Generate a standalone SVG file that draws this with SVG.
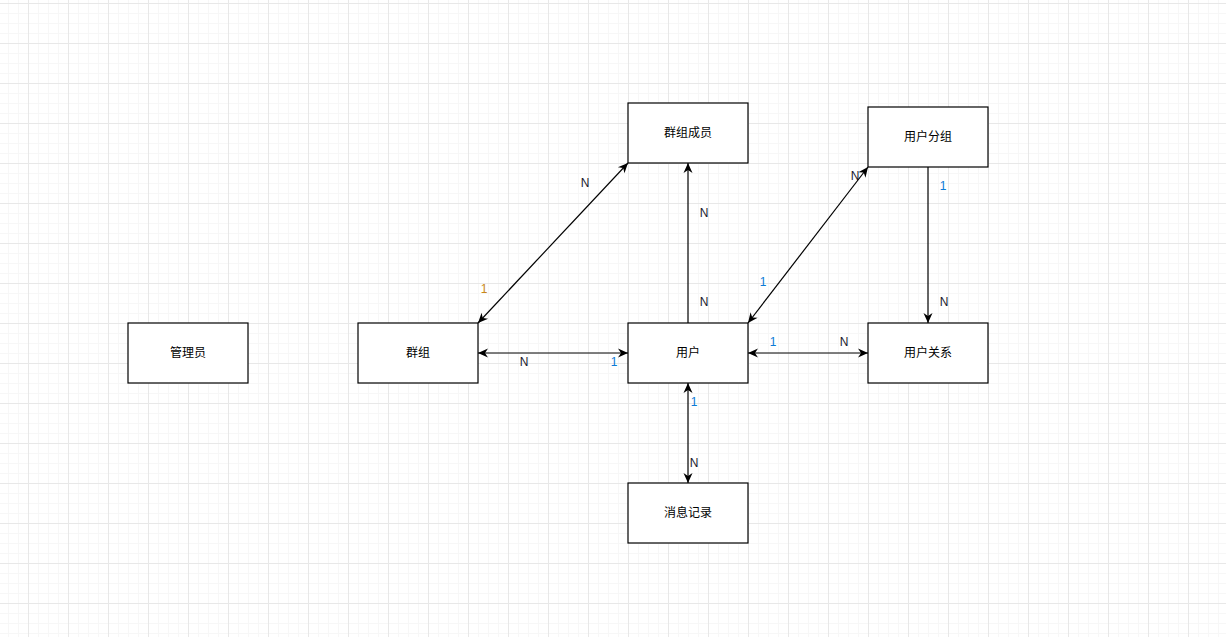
<svg xmlns="http://www.w3.org/2000/svg" width="1226" height="637" viewBox="0 0 1226 637">
<defs>
<pattern id="minor" width="10" height="10" patternUnits="userSpaceOnUse" x="8" y="3">
<path d="M0,0.5 H10 M0.5,0 V10" stroke="#f7f7f7" stroke-width="1" fill="none"/>
</pattern>
<pattern id="major" width="40" height="40" patternUnits="userSpaceOnUse" x="28" y="3">
<path d="M0,0.5 H40 M0.5,0 V40" stroke="#e8e8e8" stroke-width="1" fill="none"/>
</pattern>
<marker id="arr" viewBox="0 0 10 10" refX="10" refY="5" markerWidth="11" markerHeight="10" markerUnits="userSpaceOnUse" orient="auto-start-reverse">
<path d="M0,0.5 L10,5 L0,9.5 L3,5 Z" fill="#000"/>
</marker>
<style>
.box{fill:#fff;stroke:#000;stroke-width:1.2}
.t{font-family:"Liberation Sans","Noto Sans CJK SC",sans-serif;font-size:12px;fill:#000;text-anchor:middle;dominant-baseline:central}
.l{font-family:"Liberation Sans","Noto Sans CJK SC",sans-serif;font-size:12px;text-anchor:middle;dominant-baseline:central}
.n{fill:#1a1a2e}
.b{fill:#0b7ad6}
.o{fill:#c8871a}
.c{stroke:#000;stroke-width:1.2;fill:none}
</style>
</defs>
<rect width="1226" height="637" fill="#fff"/>
<rect width="1226" height="637" fill="url(#minor)"/>
<rect width="1226" height="637" fill="url(#major)"/>
<g id="connectors">
<line class="c" x1="478" y1="323" x2="628" y2="163" marker-start="url(#arr)" marker-end="url(#arr)"/>
<line class="c" x1="478" y1="353" x2="628" y2="353" marker-start="url(#arr)" marker-end="url(#arr)"/>
<line class="c" x1="688" y1="323" x2="688" y2="163" marker-end="url(#arr)"/>
<line class="c" x1="748" y1="323" x2="868" y2="167" marker-start="url(#arr)" marker-end="url(#arr)"/>
<line class="c" x1="748" y1="353" x2="868" y2="353" marker-start="url(#arr)" marker-end="url(#arr)"/>
<line class="c" x1="928" y1="167" x2="928" y2="323" marker-end="url(#arr)"/>
<line class="c" x1="688" y1="383" x2="688" y2="483" marker-start="url(#arr)" marker-end="url(#arr)"/>
<text class="l n" x="585" y="183">N</text>
<text class="l o" x="484" y="289">1</text>
<text class="l n" x="524" y="362">N</text>
<text class="l b" x="614" y="362">1</text>
<text class="l n" x="704" y="213">N</text>
<text class="l n" x="704" y="302">N</text>
<text class="l n" x="855" y="176">N</text>
<text class="l b" x="763" y="282">1</text>
<text class="l b" x="773" y="342">1</text>
<text class="l n" x="844" y="342">N</text>
<text class="l b" x="943" y="186">1</text>
<text class="l n" x="944" y="302">N</text>
<text class="l b" x="694" y="402">1</text>
<text class="l n" x="694" y="463">N</text>
</g>
<g id="admin"><rect class="box" x="128" y="323" width="120" height="60"/><text class="t" x="188" y="353">管理员</text></g>
<g id="group"><rect class="box" x="358" y="323" width="120" height="60"/><text class="t" x="418" y="353">群组</text></g>
<g id="user"><rect class="box" x="628" y="323" width="120" height="60"/><text class="t" x="688" y="353">用户</text></g>
<g id="userRelation"><rect class="box" x="868" y="323" width="120" height="60"/><text class="t" x="928" y="353">用户关系</text></g>
<g id="groupMember"><rect class="box" x="628" y="103" width="120" height="60"/><text class="t" x="688" y="133">群组成员</text></g>
<g id="userGroup"><rect class="box" x="868" y="107" width="120" height="60"/><text class="t" x="928" y="137">用户分组</text></g>
<g id="message"><rect class="box" x="628" y="483" width="120" height="60"/><text class="t" x="688" y="513">消息记录</text></g>
</svg>
